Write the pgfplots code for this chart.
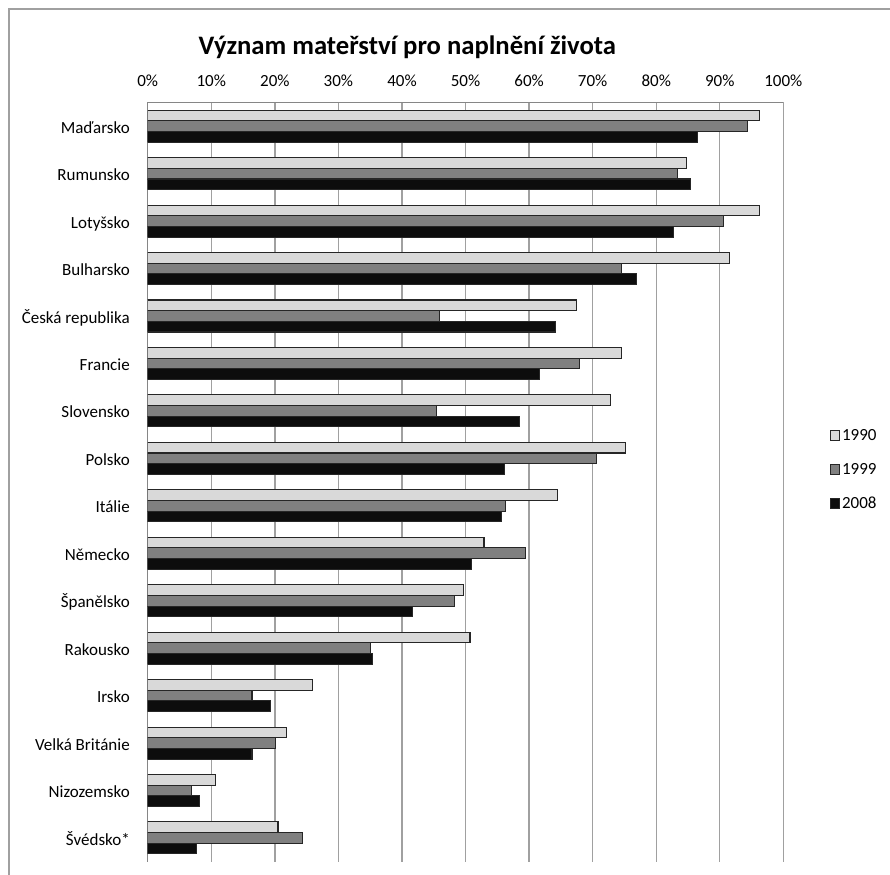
\documentclass[border=0pt]{standalone}
\usepackage{pgfplots}
\usepackage{pgfplotstable}
\pgfplotsset{compat=1.18}
\usepackage{fontspec}
\setmainfont{Carlito}

\definecolor{c90}{HTML}{D9D9D9}
\definecolor{c99}{HTML}{808080}
\definecolor{c08}{HTML}{0D0D0D}
\definecolor{gridc}{HTML}{A0A0A0}
\definecolor{axc}{HTML}{868686}

% share of answers, %
\pgfplotstableread{
idx a1990 a1999 a2008
0  96.3 94.4 86.5
1  84.8 83.3 85.4
2  96.2 90.6 82.7
3  91.5 74.5 76.9
4  67.4 45.9 64.1
5  74.6 68.0 61.7
6  72.8 45.4 58.5
7  75.1 70.6 56.2
8  64.4 56.3 55.7
9  52.9 59.4 51.0
10 49.7 48.2 41.7
11 50.7 35.0 35.3
12 25.9 16.4 19.3
13 21.9 20.1 16.4
14 10.7  6.9  8.1
15 20.5 24.3  7.6
}\data

\begin{document}
\begin{tikzpicture}
\useasboundingbox (0,0) rectangle (667.5pt,656.25pt);
\draw[gridc, line width=1pt] (6.75pt,-20pt) -- (6.75pt,649.5pt) -- (700pt,649.5pt);
\node[font=\bfseries\fontsize{20}{24}\selectfont, anchor=base west] at (145.5pt,615pt)
  {Význam mateřství pro naplnění života};
\begin{axis}[
  at={(110.8pt,10pt)}, anchor=south west,
  scale only axis, width=476.7pt, height=569.4pt,
  xbar, bar width=0.225,
  xmin=0, xmax=100, ymin=-0.5, ymax=15.5, y dir=reverse,
  xtick={0,10,...,100},
  xticklabels={0\%,10\%,20\%,30\%,40\%,50\%,60\%,70\%,80\%,90\%,100\%},
  ytick={0,...,15},
  yticklabels={Maďarsko,Rumunsko,Lotyšsko,Bulharsko,Česká republika,Francie,
    Slovensko,Polsko,Itálie,Německo,Španělsko,Rakousko,Irsko,Velká Británie,
    Nizozemsko,Švédsko*},
  axis x line*=top, axis y line*=left,
  axis line style={axc, line width=1pt, -},
  xmajorgrids, major grid style={gridc, line width=1pt},
  major tick length=0pt,
  tick label style={font=\fontsize{12.75}{15}\selectfont},
  xticklabel style={anchor=base, inner sep=0pt, yshift=12pt},
  yticklabel style={anchor=base east, inner sep=0pt, xshift=-13.3pt, yshift=-5.3pt},
  legend style={draw=none, fill=none, at={(1.066,0.5166)}, anchor=west,
    font=\fontsize{12.75}{15}\selectfont, row sep=12pt,
    nodes={inner sep=1.2pt, text height=9pt, text depth=2pt},
    /tikz/every odd column/.append style={column sep=0.4pt}},
  legend cell align=left,
  legend image code/.code={\draw[#1, line width=0.6pt] (0pt,-3.6pt) rectangle (7.2pt,3.6pt);},
]
\addplot[fill=c90, draw=black!85, line width=0.8pt, bar shift=-0.225] table[x=a1990, y=idx] {\data};
\addplot[fill=c99, draw=black!85, line width=0.8pt, bar shift=0] table[x=a1999, y=idx] {\data};
\addplot[fill=c08, draw=black!85, line width=0.8pt, bar shift=0.225] table[x=a2008, y=idx] {\data};
\legend{1990,1999,2008}
\end{axis}
\end{tikzpicture}
\end{document}
